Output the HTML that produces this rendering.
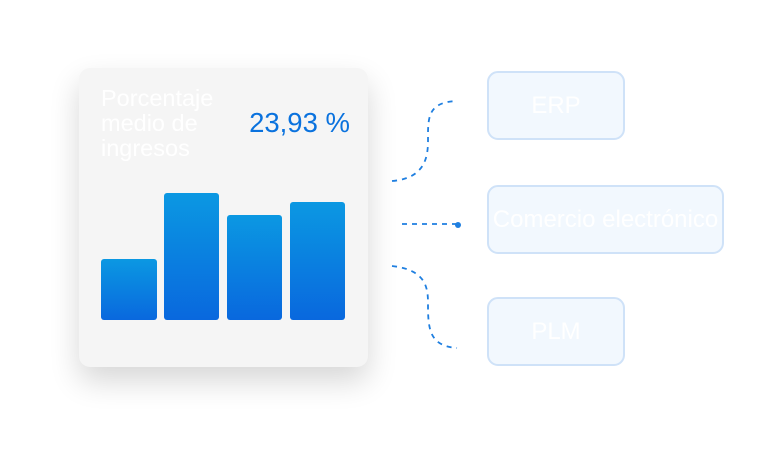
<!DOCTYPE html>
<html><head><style>
body{margin:0;width:768px;height:474px;background:#fff;position:relative;overflow:hidden;font-family:"Liberation Sans",sans-serif}
.card{position:absolute;left:79px;top:68px;width:289px;height:299px;background:#f5f5f5;border-radius:11px;box-shadow:0 14px 30px rgba(0,0,0,0.16)}
.t{position:absolute;left:22px;top:18px;color:#fff;font-size:23.5px;line-height:25px}
.v{position:absolute;right:18px;top:39px;color:#0a72de;font-size:27.5px}
.bar{position:absolute;border-radius:3px;background:linear-gradient(#0b98e2,#0968de)}
.box{position:absolute;background:#f2f8fe;border:2px solid #cfe2f8;border-radius:11px;color:#fff;font-size:24px;display:flex;align-items:center;justify-content:center;box-sizing:border-box;white-space:nowrap}
</style></head><body>
<div class="card">
<div class="t">Porcentaje<br>medio de<br>ingresos</div>
<div class="v">23,93 %</div>
<div class="bar" style="left:22px;top:191px;width:56px;height:61px"></div>
<div class="bar" style="left:85px;top:125px;width:55px;height:127px"></div>
<div class="bar" style="left:148px;top:147px;width:55px;height:105px"></div>
<div class="bar" style="left:211px;top:134px;width:55px;height:118px"></div>
</div>
<svg width="768" height="474" style="position:absolute;left:0;top:0">
<g fill="none" stroke="#1f7fe0" stroke-width="1.8" stroke-dasharray="5,5">
<path d="M392 181 C430 178 428 150 428 135 C428 115 430 102 457 101"/>
<path d="M402 224 L456 224"/>
<path d="M392 266 C428 270 428 290 428 305 C428 330 430 346 457 348"/>
</g>
<circle cx="458" cy="225" r="3" fill="#1f7fe0"/>
</svg>
<div class="box" style="left:487px;top:71px;width:138px;height:69px">ERP</div>
<div class="box" style="left:487px;top:185px;width:237px;height:69px">Comercio electrónico</div>
<div class="box" style="left:487px;top:297px;width:138px;height:69px">PLM</div>
</body></html>
